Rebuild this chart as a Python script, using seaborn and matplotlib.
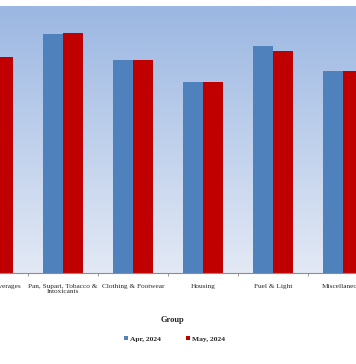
import numpy as np
import pandas as pd
import seaborn as sns
import matplotlib.pyplot as plt
from matplotlib.colors import LinearSegmentedColormap

groups = ["Food & Beverages", "Pan, Supari, Tobacco &\nIntoxicants", "Clothing & Footwear",
          "Housing", "Fuel & Light", "Miscellaneous"]
apr_2024 = [144.8, 161.0, 143.4, 128.7, 153.0, 136.1]
may_2024 = [145.6, 161.7, 143.6, 128.7, 149.6, 136.1]

df = pd.DataFrame({
    "Group": groups * 2,
    "Index": apr_2024 + may_2024,
    "Month": ["Apr, 2024"] * len(groups) + ["May, 2024"] * len(groups),
})

sns.set_style("white")
plt.rcParams["font.family"] = ["Liberation Serif", "DejaVu Serif"]

fig = plt.figure(figsize=(3.56, 3.64), dpi=100)
ax = fig.add_axes([0.0, 0.2508, 1.0, 0.7327])

# gradient background of the plot area
grad = LinearSegmentedColormap.from_list("bg", ["#e3e9f5", "#9bb7e2"])
ax.imshow(np.linspace(0, 1, 256).reshape(-1, 1), cmap=grad, aspect="auto",
          extent=[0, 1, 0, 1], transform=ax.transAxes, origin="lower", zorder=0)

sns.barplot(data=df, x="Group", y="Index", hue="Month",
            palette=["#4f81bd", "#c00000"], width=0.571, gap=0,
            saturation=1, ax=ax, zorder=2, legend=True,
            edgecolor="none", linewidth=0)

ax.set_yticks([])
ax.set_ylabel("")
ax.set_xlabel("")
for s in ["top", "left", "right"]:
    ax.spines[s].set_visible(False)
ax.spines["bottom"].set_color("#8c8c8c")
ax.spines["bottom"].set_linewidth(0.8)

lab_size = 5.2
ax.set_xticks(range(len(groups)))
ax.set_xticklabels(groups, fontsize=lab_size, linespacing=1.15)
ax.set_xticks(np.arange(len(groups)) + 0.5, minor=True)
ax.tick_params(axis="x", which="major", length=0, pad=8)
ax.tick_params(axis="x", which="minor", length=2, width=0.6, color="#8c8c8c",
               direction="out", bottom=True)
for t in ax.get_xticklabels():
    t.set_verticalalignment("top")

# limits last, so the tick setting does not widen them
ax.set_xlim(0.1, 5.186)
ax.set_ylim(0, 180)

# first category's tick sits just left of the view, so draw its label directly
ax.annotate(groups[0], xy=(0, 0), xycoords=("data", "axes fraction"),
            xytext=(0, -8), textcoords="offset points", ha="center", va="top",
            fontsize=lab_size, annotation_clip=False)

fig.text(172.5 / 356, 1 - 320 / 364, "Group", ha="center", va="center",
         fontsize=6, fontweight="bold")

ax.get_legend().remove()
handles, labels = ax.get_legend_handles_labels()
fig.legend(handles[:2], labels[:2], loc="center", bbox_to_anchor=(0.49, 1 - 339 / 364),
           ncol=2, frameon=False, handlelength=0.45, handleheight=0.45,
           handletextpad=0.3, columnspacing=3.4, prop={"weight": "bold", "size": 5.4})

fig.savefig("out.png", dpi=100)
